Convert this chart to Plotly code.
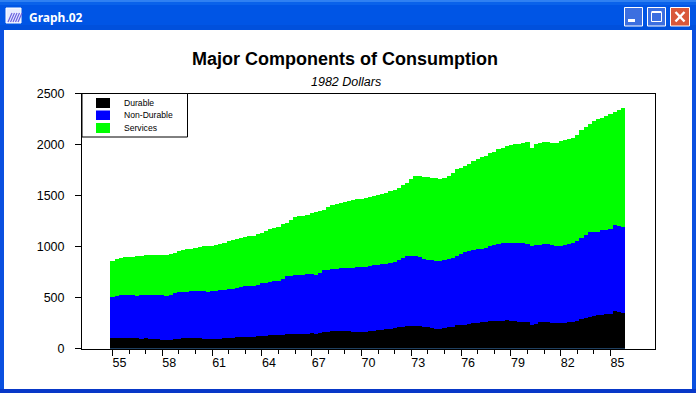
import numpy as np
import plotly.graph_objects as go

W, H = 696, 393
FONT = "Liberation Sans"

window_title = "Graph.02"
chart_title = "Major Components of Consumption"
chart_subtitle = "1982 Dollars"
series_names = ["Durable", "Non-Durable", "Services"]
series_colors = ["#000000", "#0000ff", "#00ff00"]
tick_years = [1955, 1958, 1961, 1964, 1967, 1970, 1973, 1976, 1979, 1982, 1985]
tick_labels = ["55", "58", "61", "64", "67", "70", "73", "76", "79", "82", "85"]

# Quarterly, 1955 Q1 to 1985 Q4, cumulative heights
durable_top = [
    104,108,111,110, 104,104,103,102, 103,102,100,98, 92,91,92,96,
    102,104,103,106, 106,104,100,99, 100,100,102,106, 110,112,114,116,
    118,120,122,124, 127,130,134,137, 138,142,146,148, 150,150,152,152,
    153,150,155,164, 170,174,178,180, 178,174,170,170, 168,164,172,180,
    182,190,194,200, 206,212,220,228, 230,226,222,218, 219,210,200,196,
    203,212,220,232, 238,240,246,252, 258,262,265,272, 278,272,275,280,
    276,272,268,268, 262,238,250,262, 268,262,258,254, 255,258,262,268,
    276,292,306,316, 324,330,336,340, 345,368,360,353]
nondurable_top = [
    506,518,530,533, 528,525,524,528, 530,532,532,531, 526,524,534,548,
    560,563,563,566, 570,573,566,562, 566,572,577,580, 586,590,600,610,
    614,616,620,630, 645,652,658,668, 670,690,712,720, 722,728,728,734,
    738,730,748,770, 778,782,786,790, 792,796,798,802, 802,800,812,822,
    826,832,838,848, 856,870,890,908, 912,915,905,880, 868,876,864,858,
    872,885,894,915, 935,948,958,968, 978,985,992,1005, 1022,1030,1040,1042,
    1040,1036,1040,1038, 1032,1006,1016,1018, 1032,1025,1018,1012, 1012,1018,1030,1042,
    1060,1090,1115,1145, 1148,1150,1162,1168, 1175,1212,1205,1193]
services_top = [
    866,878,888,898, 902,905,908,912, 918,922,925,926, 920,925,935,945,
    958,975,982,985, 995,1003,1008,1010, 1012,1020,1032,1040, 1056,1068,1078,1088,
    1098,1106,1112,1124, 1136,1160,1178,1186, 1200,1226,1240,1268, 1292,1300,1308,1316,
    1330,1340,1352,1362, 1392,1410,1420,1430, 1442,1450,1460,1468, 1474,1484,1490,1498,
    1512,1520,1532,1545, 1560,1580,1604,1630, 1668,1696,1696,1690, 1686,1672,1680,1670,
    1676,1700,1722,1762, 1775,1796,1816,1842, 1862,1878,1892,1918, 1935,1965,1975,1988,
    1998,2005,2010,2018, 2025,1972,2005,2020, 2026,2028,2022,2024, 2035,2046,2056,2072,
    2100,2145,2180,2210, 2235,2252,2268,2282, 2300,2320,2340,2358]

quarters = [y + q / 4 for y in range(1955, 1986) for q in range(4)]

# Plot box in window pixels
L, R, T, B = 82.0, 654.5, 93.5, 348.5
px_per_year = 16.6
x0 = 1955 - (112.5 - L) / px_per_year
x1 = 1955 + (R - 112.5) / px_per_year


def X(p):
    return p / W


def Y(p):
    return 1 - p / H


shapes, annots = [], []


def rect(a, b, c, d, fill, line=None, lw=1, layer="below"):
    shapes.append(dict(type="rect", xref="paper", yref="paper", x0=X(a), x1=X(c), y0=Y(b), y1=Y(d),
                       fillcolor=fill, line=dict(color=line or fill, width=lw if line else 0), layer=layer))


def seg(a, b, c, d, color, lw=1, layer="above"):
    shapes.append(dict(type="line", xref="paper", yref="paper", x0=X(a), x1=X(c), y0=Y(b), y1=Y(d),
                       line=dict(color=color, width=lw), layer=layer))


# Window frame
rect(0, 0, 696, 30, "#0055e5")
rect(0, 0, 696, 2, "#2f80f2")
rect(0, 2, 696, 5, "#0a62ea")
rect(0, 25, 696, 30, "#0050dc")
rect(0, 30, 4, 393, "#0a50e0")
rect(692, 30, 696, 393, "#0a50e0")
rect(0, 389, 696, 393, "#0838c8")

# Window icon
rect(6, 8, 21, 23, "#e8ecff", "#ffffff")
for i in range(5):
    seg(8 + 2.5 * i, 22, 12 + 2.5 * i, 13, "#6a60e0", 1.2)

# Window buttons
rect(624.5, 7.5, 642.5, 26, "#3c6fe0", "#ffffff", 1)
rect(647.5, 7.5, 665.5, 26, "#3c6fe0", "#ffffff", 1)
rect(670.5, 7.5, 689.5, 26, "#d9583a", "#ffffff", 1)
rect(628, 19, 635, 22, "#ffffff")
rect(651.5, 12.5, 661.5, 21.5, "rgba(0,0,0,0)", "#ffffff", 1)
rect(651.5, 11, 661.5, 13, "#ffffff")
seg(675.5, 12, 684.5, 21.5, "#ffffff", 2.4)
seg(684.5, 12, 675.5, 21.5, "#ffffff", 2.4)
annots.append(dict(text=window_title, xref="paper", yref="paper", x=X(27), y=Y(17), xanchor="left", yanchor="middle",
                   showarrow=False, font=dict(family="Noto Sans", size=12, color="#ffffff", weight="bold")))

# Subtitle
annots.append(dict(text=f"<i>{chart_subtitle}</i>", xref="paper", yref="paper", x=X(346), y=Y(81.5), xanchor="center",
                   yanchor="middle", showarrow=False, font=dict(family=FONT, size=12.5, color="#000000")))

# Legend box, drawn over the plot
rect(82, 93.5, 187.5, 137, "#ffffff", "#000000", 1, layer="above")
for name, color, ya, yb, yt in zip(series_names, series_colors, [98, 110.5, 123], [108, 120, 133], [103, 115, 128]):
    rect(96, ya, 110, yb, color, layer="above")
    annots.append(dict(text=name, xref="paper", yref="paper", x=X(122), y=Y(yt), xanchor="left", yanchor="middle",
                       showarrow=False, font=dict(family=FONT, size=8.6, color="#000000")))

fig = go.Figure()
for name, color, top in reversed(list(zip(series_names, series_colors, [durable_top, nondurable_top, services_top]))):
    fig.add_bar(x=quarters, y=top, name=name, width=0.25, marker=dict(color=color, line=dict(width=0)))

fig.update_layout(
    width=W, height=H, autosize=False, margin=dict(l=0, r=0, t=0, b=0, pad=0, autoexpand=False), showlegend=False,
    barmode="overlay", bargap=0, paper_bgcolor="#ffffff", plot_bgcolor="#ffffff",
    title=dict(text=chart_title, xref="container", yref="container", x=X(345), y=Y(59), xanchor="center", yanchor="middle",
               font=dict(family=FONT, size=18, color="#000000", weight="bold")),
    shapes=shapes, annotations=annots,
    font=dict(family=FONT, size=12.5, color="#000000"),
    xaxis=dict(domain=[X(L), X(R)], range=[x0, x1], tickmode="array", tickvals=tick_years, ticktext=tick_labels,
               ticks="outside", ticklen=6, tickwidth=1, tickcolor="#000", ticklabelshift=7, ticklabelstandoff=-4,
               showgrid=False, zeroline=False, showline=True, linecolor="#000", linewidth=1, mirror=True,
               minor=dict(tickmode="array", tickvals=list(range(1955, 1986)), ticks="outside", ticklen=4, tickwidth=1,
                          tickcolor="#000", showgrid=False)),
    yaxis=dict(domain=[Y(B), Y(T)], range=[0, 2500], tickmode="array", tickvals=[0, 500, 1000, 1500, 2000, 2500],
               ticks="outside", ticklen=6, tickwidth=1, tickcolor="#000", ticklabelstandoff=8, showgrid=False,
               zeroline=False, showline=True, linecolor="#000", linewidth=1, mirror=True),
)
fig.write_html("out.html", config={"displayModeBar": False},
               post_script="document.body.style.margin='0';document.documentElement.style.overflow='hidden';")
